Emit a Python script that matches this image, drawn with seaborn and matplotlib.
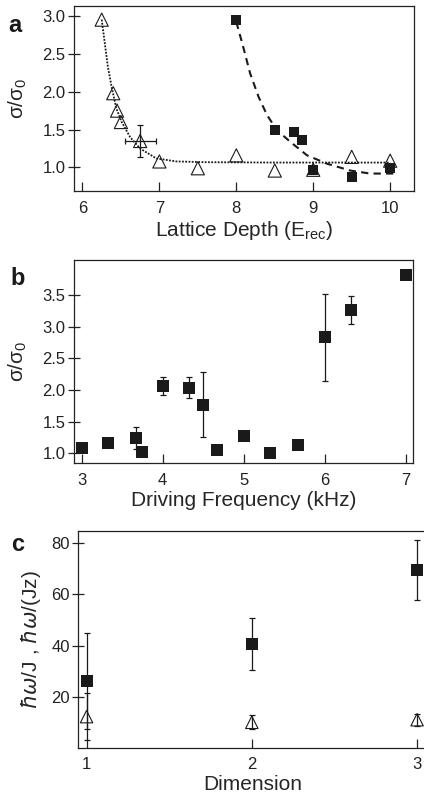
import numpy as np
import matplotlib
matplotlib.use("Agg")
import matplotlib.pyplot as plt
import seaborn as sns

# panel a: width vs lattice depth
a_tri_x = [6.25, 6.4, 6.45, 6.5, 6.75, 7.0, 7.5, 8.0, 8.5, 9.0, 9.5, 10.0]
a_tri_y = [2.95, 1.98, 1.75, 1.60, 1.35, 1.08, 0.99, 1.16, 0.96, 0.97, 1.14, 1.09]
a_err_x = [6.75]
a_err_y = [1.35]
a_err_dx = [0.2]
a_err_dy = [0.21]
a_sq_x = [8.0, 8.5, 8.75, 8.85, 9.0, 9.5, 10.0]
a_sq_y = [2.94, 1.50, 1.47, 1.36, 0.97, 0.87, 0.99]
# fit curves
a_dot_x = [6.25, 6.28, 6.33, 6.38, 6.44, 6.51, 6.62, 6.75, 6.96, 7.22, 7.6, 8.5, 10.0]
a_dot_y = [2.95, 2.72, 2.33, 2.06, 1.78, 1.60, 1.40, 1.25, 1.12, 1.08, 1.07, 1.065, 1.065]
a_dash_x = [8.0, 8.09, 8.18, 8.29, 8.40, 8.53, 8.70, 8.92, 9.18, 9.48, 9.74, 10.05]
a_dash_y = [2.92, 2.59, 2.24, 1.93, 1.69, 1.49, 1.34, 1.16, 1.05, 0.96, 0.92, 0.92]

# panel b: width vs driving frequency
b_x = [3.0, 3.33, 3.67, 3.75, 4.0, 4.33, 4.5, 4.67, 5.0, 5.33, 5.67, 6.0, 6.33, 7.0]
b_y = [1.08, 1.16, 1.24, 1.02, 2.06, 2.04, 1.77, 1.05, 1.28, 1.01, 1.14, 2.83, 3.26, 3.82]
b_err = [0, 0, 0.17, 0, 0.14, 0.16, 0.51, 0, 0, 0, 0, 0.69, 0.22, 0]

# panel c: energy scale vs dimension
c_dim = [1, 2, 3]
c_sq = [26.3, 40.6, 69.4]
c_sq_err = [18.5, 10.0, 11.6]
c_tri = [12.5, 10.3, 11.3]
c_tri_err = [9.0, 2.7, 2.3]

sns.set_style("ticks")
plt.rcParams["font.family"] = ["Liberation Sans", "DejaVu Sans"]
plt.rcParams["axes.edgecolor"] = "#222222"
plt.rcParams["axes.linewidth"] = 0.9

ink = "#1a1a1a"
W, H = 424, 798
fig = plt.figure(figsize=(W / 100, H / 100), dpi=100)


def box(l, t, r, b):
    return fig.add_axes([l / W, 1 - b / H, (r - l) / W, (b - t) / H])


def style(ax):
    for s in ax.spines.values():
        s.set_visible(True)
        s.set_color("#222222")
    ax.tick_params(axis="x", direction="in", length=6.5, width=0.9, pad=7,
                   labelsize=12, colors="#222222")
    ax.tick_params(axis="y", direction="inout", length=8, width=0.9, pad=2,
                   labelsize=12, colors="#222222")


def squares(ax, x, y, s=56):
    sns.scatterplot(x=x, y=y, marker="s", s=s, color=ink, edgecolor=ink,
                    linewidth=0, ax=ax, zorder=4)


def triangles(ax, x, y, s=90):
    ax.scatter(x, y, marker="^", s=s, facecolors="none", edgecolors=ink,
               linewidths=0.8, zorder=3)


# ---- a ----
ax = box(74, 6, 414, 191)
style(ax)
sns.lineplot(x=a_dot_x, y=a_dot_y, sort=False, estimator=None, ax=ax,
             color=ink, linestyle=(0, (1, 0.8)), linewidth=1.3, zorder=2)
sns.lineplot(x=a_dash_x, y=a_dash_y, sort=False, estimator=None, ax=ax,
             color=ink, linestyle=(0, (3.5, 2.5)), linewidth=1.5, zorder=2)
ax.errorbar(a_err_x, a_err_y, xerr=a_err_dx, yerr=a_err_dy, fmt="none",
            ecolor=ink, elinewidth=0.9, capsize=2.5, capthick=0.9, zorder=3)
triangles(ax, a_tri_x, a_tri_y)
squares(ax, a_sq_x, a_sq_y)
ax.set_xlim(5.89, 10.31)
ax.set_ylim(0.69, 3.13)
ax.set_xticks([6, 7, 8, 9, 10])
ax.set_yticks([1.0, 1.5, 2.0, 2.5, 3.0])
ax.set_yticklabels(["1.0", "1.5", "2.0", "2.5", "3.0"])
ax.set_xlabel("Lattice Depth (E$_{\\mathregular{rec}}$)", fontsize=15, labelpad=2)
ax.set_ylabel("σ/σ$_{\\mathregular{0}}$", fontsize=15, labelpad=10)

# ---- b ----
ax = box(74, 260, 413, 463)
style(ax)
bx = np.array(b_x)
by = np.array(b_y)
be = np.array(b_err)
m = be > 0
ax.errorbar(bx[m], by[m], yerr=be[m], fmt="none", ecolor=ink,
            elinewidth=0.9, capsize=2.5, capthick=0.9, zorder=3)
squares(ax, b_x, b_y, s=64)
ax.set_xlim(2.905, 7.09)
ax.set_ylim(0.85, 4.05)
ax.set_xticks([3, 4, 5, 6, 7])
ax.set_yticks([1.0, 1.5, 2.0, 2.5, 3.0, 3.5])
ax.set_yticklabels(["1.0", "1.5", "2.0", "2.5", "3.0", "3.5"])
ax.set_xlabel("Driving Frequency (kHz)", fontsize=15, labelpad=2)
ax.set_ylabel("σ/σ$_{\\mathregular{0}}$", fontsize=15, labelpad=10)

# ---- c ----
ax = box(78.3, 531, 427, 747.7)
style(ax)
ax.errorbar(c_dim, c_sq, yerr=c_sq_err, fmt="none", ecolor=ink,
            elinewidth=0.9, capsize=2.5, capthick=0.9, zorder=3)
ax.errorbar(c_dim, c_tri, yerr=c_tri_err, fmt="none", ecolor=ink,
            elinewidth=0.9, capsize=2.5, capthick=0.9, zorder=3)
triangles(ax, c_dim, c_tri, s=80)
squares(ax, c_dim, c_sq, s=64)
ax.set_xlim(0.95, 3.06)
ax.set_ylim(0.45, 84.5)
ax.set_xticks([1, 2, 3])
ax.set_yticks([20, 40, 60, 80])
ax.set_xlabel("Dimension", fontsize=15, labelpad=2)
ax.set_ylabel(r"$\hbar\omega$/J , $\hbar\omega$/(Jz)", fontsize=15, labelpad=6)

for letter, px, py in [("a", 8, 32), ("b", 10, 285), ("c", 11, 551)]:
    fig.text(px / W, 1 - py / H, letter, fontsize=17, fontweight="bold",
             color=ink, ha="left", va="baseline")

fig.savefig("out.png", dpi=100)
